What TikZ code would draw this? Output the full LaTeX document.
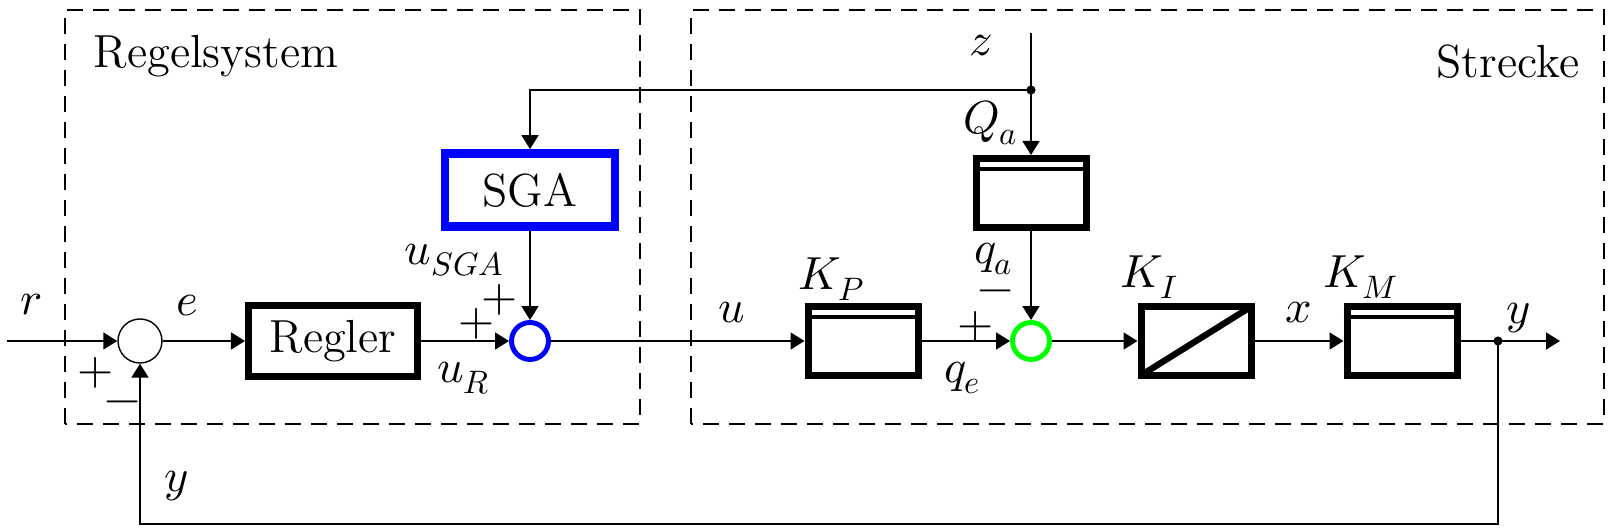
\documentclass[tikz,border=0pt]{standalone}
\usepackage{unicode-math}
\setmathfont{Latin Modern Math}
\usepackage{xcolor}
\usetikzlibrary{arrows.meta}
\tikzset{
  block/.style={draw, line width=2pt, minimum width=1.10cm, minimum height=0.69cm, inner sep=0pt},
  sumnode/.style={draw, circle, fill=white, line width=0.4pt, minimum size=0.44cm, inner sep=0pt},
  frame/.style={dash pattern=on 0.16cm off 0.1cm, line width=0.5pt},
  sig/.style={-{Triangle[length=1.4mm,width=1.7mm]}, line width=0.5pt},
  lab/.style={inner sep=1pt},
}

\begin{document}
\begin{tikzpicture}[font=\fontsize{13.2}{16}\selectfont]
        \useasboundingbox (0,0) rectangle (16.09,5.29);
        % frames
        \draw[frame] (0.65,1.05) rectangle (6.40,5.19);
        \draw[frame] (6.91,1.05) rectangle (16.04,5.19);
        \node (RS) at (2.16,4.73) {Regelsystem};
        \node (ST) at (15.08,4.67) {Strecke};

        \coordinate (in) at (0.07,1.88);
        \node[sumnode] (S1) at (1.40,1.88) {};
        \node[block, minimum width=1.69cm, minimum height=0.71cm] (R) at (3.33,1.88) {Regler};
        \node[sumnode, draw=blue, line width=1.4pt, minimum size=0.37cm] (S2) at (5.30,1.88) {};
        \node[block, draw=blue, line width=2.5pt, minimum width=1.70cm, minimum height=0.73cm] (SGA) at (5.30,3.39) {SGA};
        \node[block] (Qa) at (10.31,3.36) {};
        \node[sumnode, draw=green, line width=1.4pt, minimum size=0.37cm] (S3) at (10.31,1.88) {};
        \node[block] (KP) at (8.63,1.88) {};
        \node[block] (KI) at (11.96,1.88) {};
        \node[block] (KM) at (14.02,1.88) {};
        \coordinate (Y) at (14.98,1.88);
        \coordinate (out) at (15.60,1.88);
        \coordinate (fb) at (14.98,0.05);
        \coordinate (ztop) at (10.31,4.96);
        \coordinate (J) at (10.31,4.39);

        % stripes and diagonal
        \draw[line width=1.2pt] ([yshift=-0.14cm]Qa.north west) -- ([yshift=-0.14cm]Qa.north east);
        \draw[line width=1.2pt] ([yshift=-0.14cm]KP.north west) -- ([yshift=-0.14cm]KP.north east);
        \draw[line width=1.2pt] ([yshift=-0.14cm]KM.north west) -- ([yshift=-0.14cm]KM.north east);
        \draw[line width=1.8pt] ([shift={(0.04,0.04)}]KI.south west) -- ([shift={(-0.04,-0.04)}]KI.north east);

        % labels
        \node[lab] (lr) at (0.31,2.24) {$r$};
        \node[lab] (lp1) at (0.96,1.56) {$+$};
        \node[lab] (lm1) at (1.23,1.22) {$-$};
        \node[lab] (le) at (1.87,2.23) {$e$};
        \node[lab] (luR) at (4.64,1.51) {$u_R$};
        \node[lab] (lp2) at (4.77,2.05) {$+$};
        \node[lab] (lp3) at (5.00,2.29) {$+$};
        \node[lab] (luS) at (4.55,2.69) {$u_{SGA}$};
        \node[lab] (lz) at (9.81,4.83) {$z$};
        \node[lab] (lQa) at (9.91,4.06) {$Q_a$};
        \node[lab] (lqa) at (9.94,2.70) {$q_a$};
        \node[lab] (lm2) at (9.96,2.33) {$-$};
        \node[lab] (lp4) at (9.76,2.02) {$+$};
        \node[lab] (lqe) at (9.63,1.51) {$q_e$};
        \node[lab] (lu) at (7.32,2.16) {$u$};
        \node[lab] (lKP) at (8.32,2.50) {$K_P$};
        \node[lab] (lKI) at (11.50,2.52) {$K_I$};
        \node[lab] (lKM) at (13.61,2.52) {$K_M$};
        \node[lab] (lx) at (12.99,2.16) {$x$};
        \node[lab] (ly) at (15.18,2.11) {$y$};
        \node[lab] (lyb) at (1.77,0.43) {$y$};

        % signals
        \draw[sig] (in) -- (S1);
        \draw[sig] (S1) -- (R);
        \draw[sig] (R) -- (S2);
        \draw[sig] (S2) -- (KP);
        \draw[sig] (KP) -- (S3);
        \draw[sig] (S3) -- (KI);
        \draw[sig] (KI) -- (KM);
        \draw[line width=0.5pt] (KM) -- (Y);
        \draw[sig] (Y) -- (out);
        \draw[sig] (Y) -- (fb) -| (S1);
        \draw[sig] (ztop) -- (Qa);
        \draw[sig] (J) -| (SGA);
        \draw[sig] (SGA) -- (S2);
        \draw[sig] (Qa) -- (S3);
        \fill (J) circle (1.3pt);
        \fill (Y) circle (1.3pt);
    \end{tikzpicture}
\end{document}
